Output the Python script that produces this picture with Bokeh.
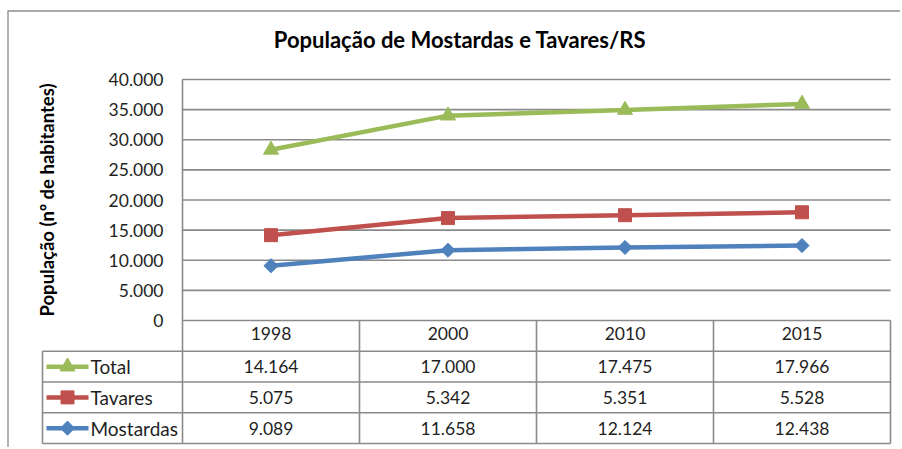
import numpy as np
from bokeh.plotting import figure
from bokeh.models import Range1d, LinearAxis, FixedTicker, Label, ColumnDataSource
from bokeh.core.properties import value
from bokeh.embed import file_html
from bokeh.resources import INLINE

# ---------------- data ----------------
title_text = "População de Mostardas e Tavares/RS"
y_title = "População (nº de habitantes)"
years = ["1998", "2000", "2010", "2015"]
series_names = ["Total", "Tavares", "Mostardas"]          # table order (top -> bottom)
mostardas = [9089, 11658, 12124, 12438]
tavares = [5075, 5342, 5351, 5528]
total = [14164, 17000, 17475, 17966]
y_ticks = [0, 5000, 10000, 15000, 20000, 25000, 30000, 35000, 40000]
y_tick_labels = ["0", "5.000", "10.000", "15.000", "20.000", "25.000", "30.000", "35.000", "40.000"]

# ---------------- style / geometry ----------------
FONT = "Lato"
TXT = "#1f1f1f"
GRID = "#8a8a8a"
colors = {"Total": "#9BBB59", "Tavares": "#C0504D", "Mostardas": "#4F81BD"}
markers = {"Total": ("triangle", 15, 0.0), "Tavares": ("square", 13, 0.0), "Mostardas": ("square", 10, np.pi / 4)}

W, H = 900, 447
PAGE = 0
PLOT_L, PLOT_R = 182, 890
PLOT_T, PLOT_B = 79, 320
ROW_H = 30.75
LEG_L = 42
YMAX = y_ticks[-1]
NCAT = len(years)
CAT_PX = (PLOT_R - PLOT_L) / NCAT
UPP = YMAX / (PLOT_B - PLOT_T)


def px_x(page_x):
    return -0.5 + (page_x - PLOT_L) / CAT_PX


def px_y(page_y):
    return (PLOT_B - page_y) * UPP


x_start = px_x(PAGE)
x_end = px_x(PAGE + W)
y_end = px_y(PAGE)
y_start = px_y(PAGE + H)

p = figure(width=W, height=H, x_range=Range1d(x_start, x_end), y_range=Range1d(y_start, y_end),
           x_axis_type=None, y_axis_type=None, toolbar_location=None, output_backend="svg",
           min_border=0, outline_line_color=None, background_fill_color="white",
           border_fill_color="white")

# outer chart-area border (top and left)
p.segment(x0=[px_x(7), px_x(7.5)], y0=[px_y(10.5), px_y(10.5)],
          x1=[px_x(1000), px_x(7.5)], y1=[px_y(10.5), px_y(1000)],
          line_color="#8c8c8c", line_width=1.3)

# gridlines
xl, xr = -0.5, NCAT - 0.5
p.segment(x0=[xl] * len(y_ticks), y0=y_ticks, x1=[xr] * len(y_ticks), y1=y_ticks,
          line_color=GRID, line_width=1.6)

# table geometry
rows_y = [px_y(PLOT_B + k * ROW_H) for k in range(len(series_names) + 2)]
x_leg = px_x(LEG_L)
# horizontal table lines
hx0 = [x_leg] * (len(rows_y) - 1)
hy = rows_y[1:]
p.segment(x0=hx0, y0=hy, x1=[xr] * len(hy), y1=hy, line_color=GRID, line_width=1.6)
# vertical table lines
vx = [xl] + [i + 0.5 for i in range(NCAT)]
vy0 = [YMAX] + [0] * NCAT
p.segment(x0=vx, y0=vy0, x1=vx, y1=[rows_y[-1]] * len(vx), line_color=GRID, line_width=1.6)
p.segment(x0=[x_leg], y0=[rows_y[1]], x1=[x_leg], y1=[rows_y[-1]], line_color=GRID, line_width=1.6)

# stacked lines (Excel stacked line chart)
series_vals = {"Mostardas": mostardas, "Tavares": tavares, "Total": total}
stack_order = ["Mostardas", "Tavares", "Total"]
cum = np.cumsum([series_vals[n] for n in stack_order], axis=0)
xs = list(range(NCAT))
for name, ys in zip(stack_order, cum):
    src = ColumnDataSource(dict(x=xs, y=list(ys)))
    p.line("x", "y", source=src, line_color=colors[name], line_width=4.5)
    mk, sz, ang = markers[name]
    p.scatter("x", "y", source=src, marker=mk, size=sz, angle=ang,
              fill_color=colors[name], line_color=colors[name])

# table contents
for k, name in enumerate(series_names):
    yc = (rows_y[k + 1] + rows_y[k + 2]) / 2
    labels = [f"{v:,}".replace(",", ".") for v in series_vals[name]]
    p.text(x=xs, y=[yc] * NCAT, text=labels, text_align="center", text_baseline="middle",
           text_font=value(FONT), text_font_size="17.5px", text_color=TXT)
    # legend key
    p.line(x=[px_x(46), px_x(88)], y=[yc, yc], line_color=colors[name], line_width=4.5)
    mk, sz, ang = markers[name]
    p.scatter(x=[px_x(67)], y=[yc], marker=mk, size=sz, angle=ang,
              fill_color=colors[name], line_color=colors[name])
    p.text(x=[px_x(90)], y=[yc], text=[name], text_align="left", text_baseline="middle",
           text_font=value(FONT), text_font_size="19px", text_color=TXT)

# axes
yaxis = LinearAxis(fixed_location=xl, bounds=(0, YMAX), ticker=FixedTicker(ticks=y_ticks),
                   major_label_overrides=dict(zip(y_ticks, y_tick_labels)),
                   axis_line_color=None, major_tick_in=0, major_tick_out=0,
                   minor_tick_in=0, minor_tick_out=0, major_label_standoff=19,
                   major_label_text_font=FONT, major_label_text_font_size="17.5px",
                   major_label_text_color=TXT,
                   axis_label=y_title, axis_label_standoff=48,
                   axis_label_text_font=FONT, axis_label_text_font_style="bold",
                   axis_label_text_font_size="18.5px", axis_label_text_color="#000000")
p.add_layout(yaxis, "left")

xaxis = LinearAxis(fixed_location=0, ticker=FixedTicker(ticks=xs),
                   major_label_overrides={i: y for i, y in enumerate(years)},
                   axis_line_color=None, major_tick_in=0, major_tick_out=0,
                   minor_tick_in=0, minor_tick_out=0, major_label_standoff=6,
                   major_label_text_font=FONT, major_label_text_font_size="17.5px",
                   major_label_text_color=TXT)
p.add_layout(xaxis, "below")

p.add_layout(Label(x=px_x(459.5), y=px_y(39), text=title_text, text_align="center",
                   text_baseline="middle", text_font=FONT, text_font_style="bold",
                   text_font_size="22px", text_color="#000000"))

open("out.html", "w").write(file_html(p, INLINE))
